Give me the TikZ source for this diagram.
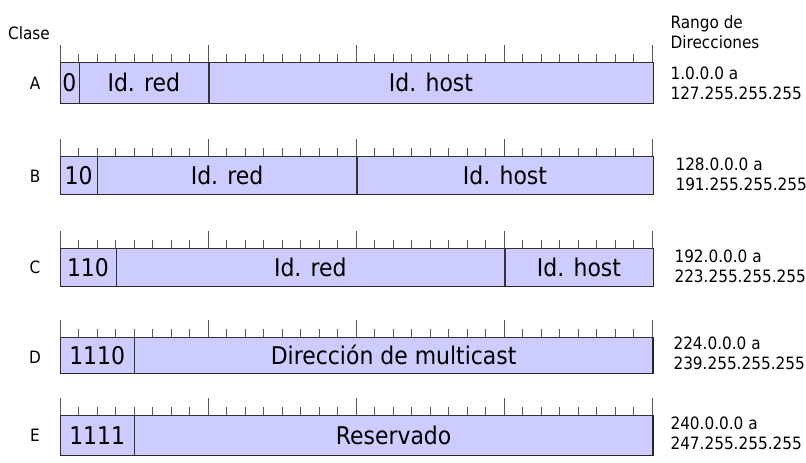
\documentclass[tikz,border=0pt]{standalone}
\usepackage{fontspec}
\setmainfont{DejaVu Sans Condensed}
\definecolor{lila}{HTML}{CCCCFF}
\newcommand{\chico}{\fontsize{17}{20}\selectfont}
\newcommand{\grande}{\fontsize{24.4}{24}\selectfont}
\tikzset{
  campo/.style={draw=black!80, fill=lila, inner sep=0pt, anchor=north west,
    font=\grande, minimum width=#1*18.5pt},
  marca/.style={draw=black!65, line width=0.9pt},
  sombra/.style={draw=black!85, line width=1.4pt},
  clase/.style={font=\chico},
  rango/.style={font=\chico, align=left, anchor=west}
}
\begin{document}
\begin{tikzpicture}[x=1pt,y=-1pt]
\useasboundingbox (0,0) rectangle (806,463);
\foreach \y in {62,156,248,337,415}
  \foreach \i in {0,...,32}{
    \pgfmathsetmacro\largo{mod(\i,8)==0 ? 17 : 8}
    \draw[marca] (60+\i*18.5,\y) -- ++(0,-\largo);
  }
\node[clase] (titulo) at (29,33) {Clase};
\node[rango] (rtitulo) at (667,32) {Rango de\\Direcciones};
\node[campo=1, minimum height=41pt] (a1) at (60,62) {0};
\node[campo=7, minimum height=41pt] (a2) at (a1.north east) {Id. red};
\node[campo=24, minimum height=41pt] (a3) at (a2.north east) {Id. host};
\draw[sombra] (a1.south west) -- (a3.south east) -- (a3.north east);
\node[clase] (ca) at (35,83) {A};
\node[rango] (ra) at (667,83) {1.0.0.0 a\\127.255.255.255};
\node[campo=2, minimum height=38pt] (b1) at (60,156) {10};
\node[campo=14, minimum height=38pt] (b2) at (b1.north east) {Id. red};
\node[campo=16, minimum height=38pt] (b3) at (b2.north east) {Id. host};
\draw[sombra] (b1.south west) -- (b3.south east) -- (b3.north east);
\node[clase] (cb) at (35,176) {B};
\node[rango] (rb) at (672,174) {128.0.0.0 a\\191.255.255.255};
\node[campo=3, minimum height=38pt] (c1) at (60,248) {110};
\node[campo=21, minimum height=38pt] (c2) at (c1.north east) {Id. red};
\node[campo=8, minimum height=38pt] (c3) at (c2.north east) {Id. host};
\draw[sombra] (c1.south west) -- (c3.south east) -- (c3.north east);
\node[clase] (cc) at (35,267) {C};
\node[rango] (rc) at (671,266) {192.0.0.0 a\\223.255.255.255};
\node[campo=4, minimum height=36pt] (d1) at (60,337) {1110};
\node[campo=28, minimum height=36pt] (d2) at (d1.north east) {Dirección de multicast};
\draw[sombra] (d1.south west) -- (d2.south east) -- (d2.north east);
\node[clase] (cd) at (35,357) {D};
\node[rango] (rd) at (670,353) {224.0.0.0 a\\239.255.255.255};
\node[campo=4, minimum height=40pt] (e1) at (60,415) {1111};
\node[campo=28, minimum height=40pt] (e2) at (e1.north east) {Reservado};
\draw[sombra] (e1.south west) -- (e2.south east) -- (e2.north east);
\node[clase] (ce) at (35,435) {E};
\node[rango] (re) at (667,433) {240.0.0.0 a\\247.255.255.255};
\end{tikzpicture}
\end{document}
